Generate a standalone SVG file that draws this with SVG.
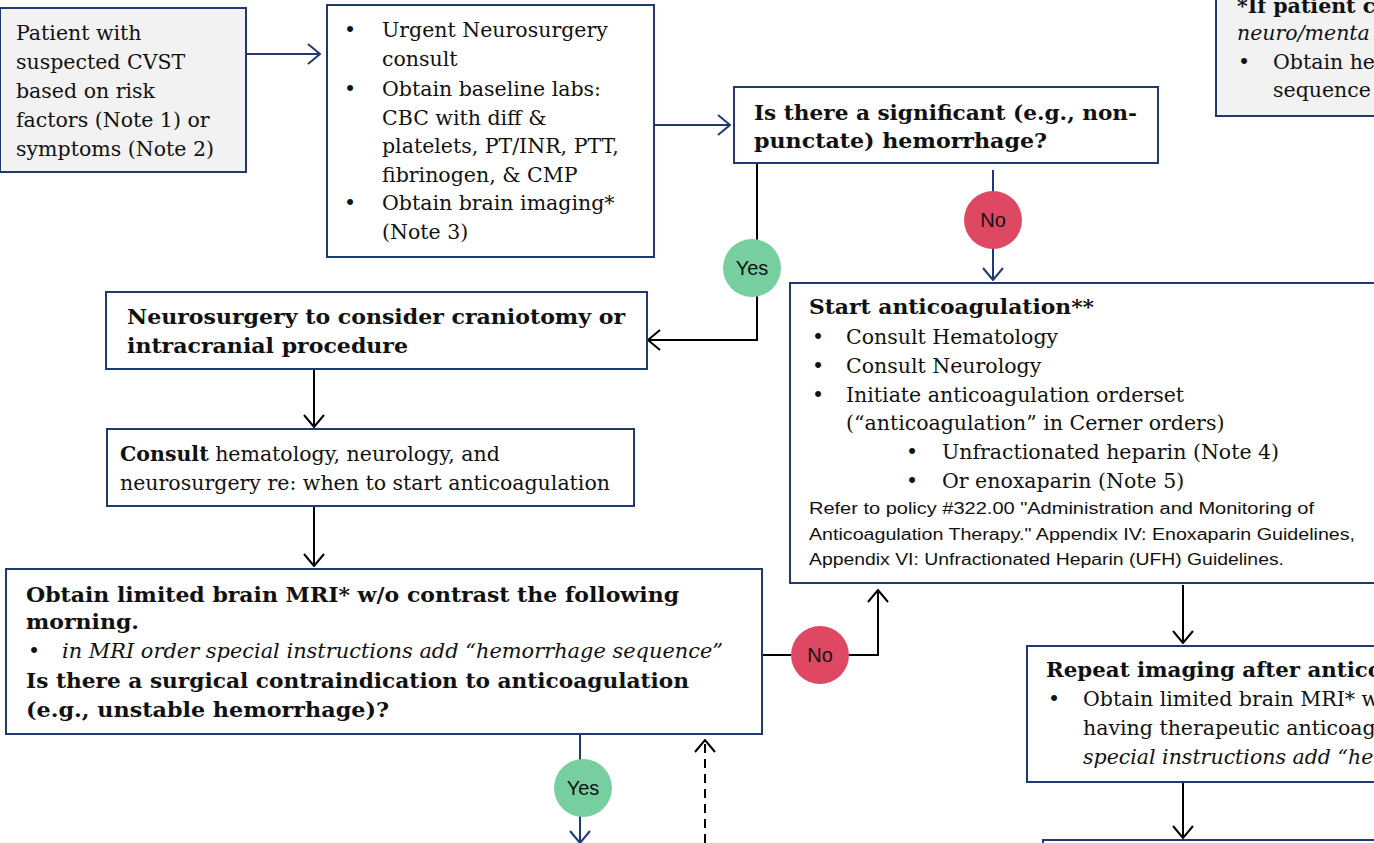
<svg xmlns="http://www.w3.org/2000/svg" width="1374" height="843" viewBox="0 0 1374 843">
<style>
.box{fill:#ffffff;stroke:#1f3a73;stroke-width:2}
.gbox{fill:#f2f2f2;stroke:#1f3a73;stroke-width:2}
.t{font-family:"DejaVu Serif","Liberation Serif",serif;font-size:20.5px;fill:#111}
.b{font-weight:bold}
.i{font-style:italic}
.s{font-family:"Liberation Sans","Open Sans",sans-serif;font-size:16px;fill:#111}
.lbl{font-family:"Liberation Sans",Arial,sans-serif;font-size:20px;fill:#111;text-anchor:middle}
.cb{fill:none;stroke:#1f3a73;stroke-width:2}
.ck{fill:none;stroke:#000;stroke-width:2}
</style>
<defs>
<marker id="ab" viewBox="0 0 14 22" refX="13" refY="11" markerWidth="14" markerHeight="22" markerUnits="userSpaceOnUse" orient="auto"><path d="M1,1 L13,11 L1,21" fill="none" stroke="#1f3a73" stroke-width="2"/></marker>
<marker id="ak" viewBox="0 0 14 22" refX="13" refY="11" markerWidth="14" markerHeight="22" markerUnits="userSpaceOnUse" orient="auto"><path d="M1,1 L13,11 L1,21" fill="none" stroke="#000" stroke-width="2"/></marker>
</defs>
<rect width="1374" height="843" fill="#ffffff"/>

<g id="connectors">
<line class="cb" x1="246" y1="54" x2="320" y2="54" marker-end="url(#ab)"/>
<line class="cb" x1="654" y1="125" x2="730" y2="125" marker-end="url(#ab)"/>
<line class="cb" x1="993" y1="170" x2="993" y2="280" marker-end="url(#ab)"/>
<polyline class="ck" points="757,164 757,340 648,340" marker-end="url(#ak)"/>
<line class="ck" x1="314" y1="370" x2="314" y2="427" marker-end="url(#ak)"/>
<line class="ck" x1="314" y1="507" x2="314" y2="566" marker-end="url(#ak)"/>
<line class="ck" x1="762" y1="645" x2="762" y2="707"/>
<polyline class="ck" points="762,655 878,655 878,590" marker-end="url(#ak)"/>
<line class="ck" x1="1183" y1="585" x2="1183" y2="643" marker-end="url(#ak)"/>
<line class="ck" x1="1183" y1="783" x2="1183" y2="838" marker-end="url(#ak)"/>
<line class="cb" x1="580" y1="735" x2="580" y2="843" marker-end="url(#ab)"/>
<line class="ck" x1="705" y1="843" x2="705" y2="740" stroke-dasharray="9,6" marker-end="url(#ak)"/>
</g>

<g id="n1">
<rect class="gbox" x="0" y="8" width="246" height="164"/>
<text class="t" x="16" y="40">Patient with</text>
<text class="t" x="16" y="69">suspected CVST</text>
<text class="t" x="16" y="98">based on risk</text>
<text class="t" x="16" y="127">factors (Note 1) or</text>
<text class="t" x="16" y="156">symptoms (Note 2)</text>
</g>

<g id="n2">
<rect class="box" x="327" y="5" width="327" height="252"/>
<text class="t" x="344" y="37">•</text><text class="t" x="382" y="37">Urgent Neurosurgery</text>
<text class="t" x="382" y="66">consult</text>
<text class="t" x="344" y="96">•</text><text class="t" x="382" y="96">Obtain baseline labs:</text>
<text class="t" x="382" y="125">CBC with diff &amp;</text>
<text class="t" x="382" y="153">platelets, PT/INR, PTT,</text>
<text class="t" x="382" y="182">fibrinogen, &amp; CMP</text>
<text class="t" x="344" y="210">•</text><text class="t" x="382" y="210">Obtain brain imaging*</text>
<text class="t" x="382" y="239">(Note 3)</text>
</g>

<g id="n3">
<rect class="box" x="734" y="87" width="424" height="76"/>
<text class="t b" x="754" y="120" textLength="383" lengthAdjust="spacingAndGlyphs">Is there a significant (e.g., non-</text>
<text class="t b" x="754" y="148" textLength="293" lengthAdjust="spacingAndGlyphs">punctate) hemorrhage?</text>
</g>

<g id="n4">
<rect class="box" x="106" y="292" width="541" height="77"/>
<text class="t b" x="127" y="324" textLength="498" lengthAdjust="spacingAndGlyphs">Neurosurgery to consider craniotomy or</text>
<text class="t b" x="127" y="353" textLength="281" lengthAdjust="spacingAndGlyphs">intracranial procedure</text>
</g>

<g id="n5">
<rect class="box" x="107" y="429" width="527" height="77"/>
<text class="t" x="120" y="461"><tspan class="b">Consult</tspan> hematology, neurology, and</text>
<text class="t" x="120" y="490" textLength="490" lengthAdjust="spacingAndGlyphs">neurosurgery re: when to start anticoagulation</text>
</g>

<g id="n6">
<rect class="box" x="6" y="569" width="756" height="165"/>
<text class="t b" x="26" y="602" textLength="653" lengthAdjust="spacingAndGlyphs">Obtain limited brain MRI* w/o contrast the following</text>
<text class="t b" x="26" y="629" textLength="113" lengthAdjust="spacingAndGlyphs">morning.</text>
<text class="t" x="28" y="658">•</text><text class="t i" x="62" y="658" textLength="661" lengthAdjust="spacingAndGlyphs">in MRI order special instructions add “hemorrhage sequence”</text>
<text class="t b" x="26" y="688" textLength="663" lengthAdjust="spacingAndGlyphs">Is there a surgical contraindication to anticoagulation</text>
<text class="t b" x="26" y="717" textLength="363" lengthAdjust="spacingAndGlyphs">(e.g., unstable hemorrhage)?</text>
</g>

<g id="n7">
<rect class="box" x="790" y="283" width="600" height="300"/>
<text class="t b" x="809" y="314" textLength="285" lengthAdjust="spacingAndGlyphs">Start anticoagulation**</text>
<text class="t" x="812" y="344">•</text><text class="t" x="846" y="344">Consult Hematology</text>
<text class="t" x="812" y="373">•</text><text class="t" x="846" y="373">Consult Neurology</text>
<text class="t" x="812" y="402">•</text><text class="t" x="846" y="402">Initiate anticoagulation orderset</text>
<text class="t" x="846" y="430">(“anticoagulation” in Cerner orders)</text>
<text class="t" x="906" y="459">•</text><text class="t" x="942" y="459">Unfractionated heparin (Note 4)</text>
<text class="t" x="906" y="488">•</text><text class="t" x="942" y="488">Or enoxaparin (Note 5)</text>
<text class="s" x="809" y="514" textLength="505" lengthAdjust="spacingAndGlyphs">Refer to policy #322.00 "Administration and Monitoring of</text>
<text class="s" x="809" y="540" textLength="546" lengthAdjust="spacingAndGlyphs">Anticoagulation Therapy." Appendix IV: Enoxaparin Guidelines,</text>
<text class="s" x="809" y="565" textLength="475" lengthAdjust="spacingAndGlyphs">Appendix VI: Unfractionated Heparin (UFH) Guidelines.</text>
</g>

<g id="n8">
<rect class="box" x="1027" y="646" width="400" height="136"/>
<text class="t b" x="1046" y="677" textLength="336" lengthAdjust="spacingAndGlyphs">Repeat imaging after antico</text>
<text class="t" x="1048" y="706">•</text><text class="t" x="1083" y="706">Obtain limited brain MRI* w</text>
<text class="t" x="1083" y="735">having therapeutic anticoag</text>
<text class="t i" x="1083" y="764">special instructions add “he</text>
</g>

<g id="n9">
<rect class="box" x="1043" y="840" width="400" height="40"/>
</g>

<g id="n10">
<rect class="gbox" x="1216" y="-5" width="200" height="121"/>
<text class="t b" x="1237" y="13">*If patient c</text>
<text class="t i" x="1237" y="40">neuro/menta</text>
<text class="t" x="1238" y="69">•</text><text class="t" x="1273" y="69">Obtain he</text>
<text class="t" x="1273" y="97">sequence</text>
</g>

<g id="yes1"><circle cx="752" cy="268" r="29" fill="#77cf9f"/><text class="lbl" x="752" y="275">Yes</text></g>
<g id="no1"><circle cx="993" cy="220" r="29" fill="#df4862"/><text class="lbl" x="993" y="227">No</text></g>
<g id="no2"><circle cx="820" cy="655" r="29" fill="#df4862"/><text class="lbl" x="820" y="662">No</text></g>
<g id="yes2"><circle cx="583" cy="788" r="29" fill="#77cf9f"/><text class="lbl" x="583" y="795">Yes</text></g>
</svg>
